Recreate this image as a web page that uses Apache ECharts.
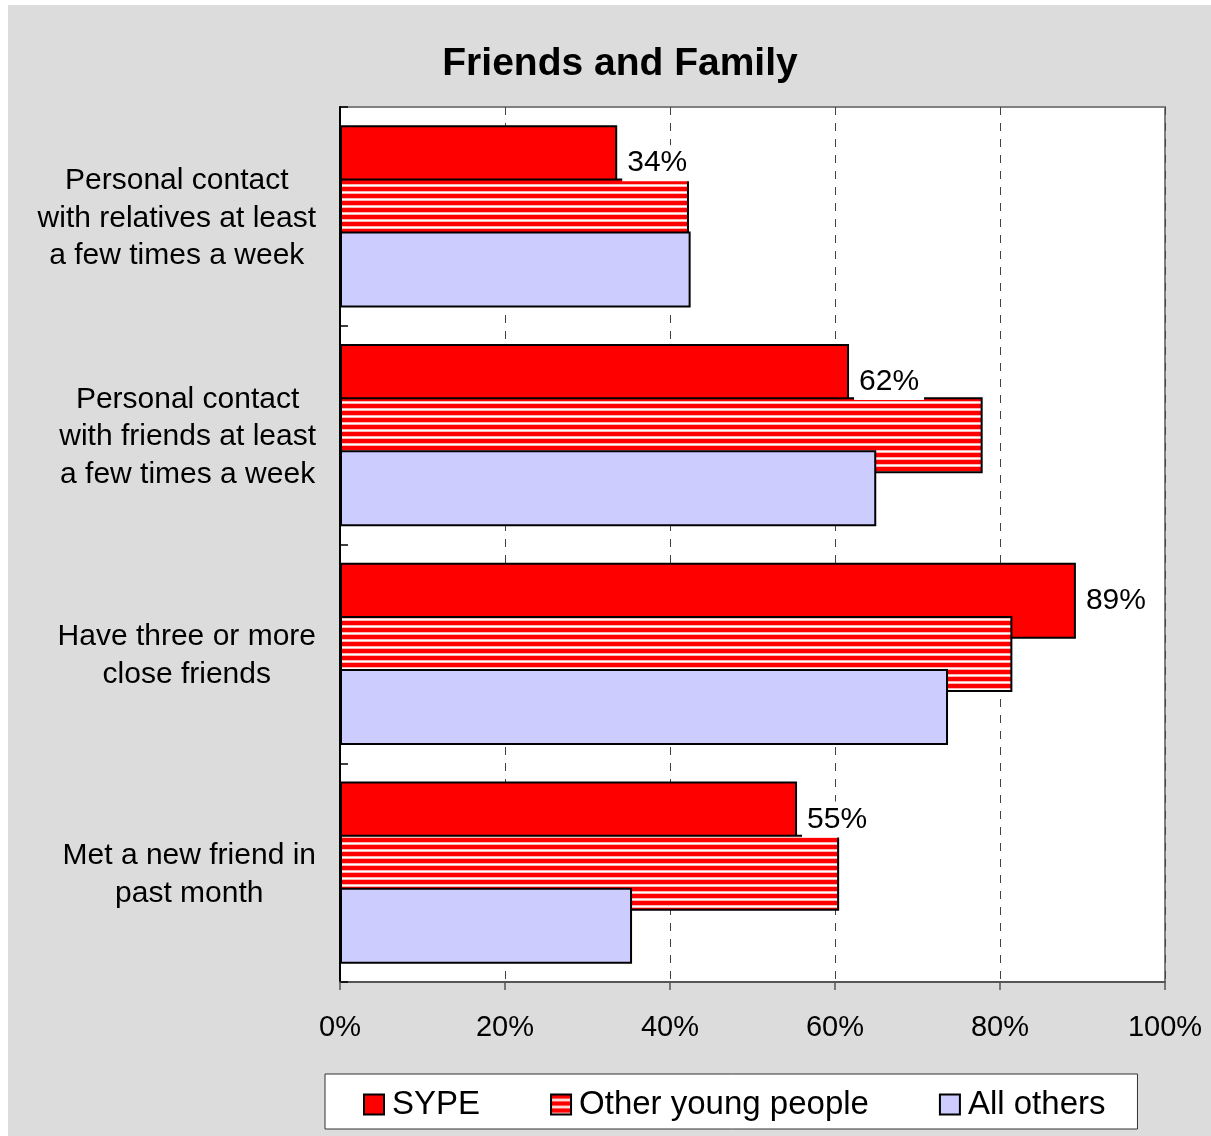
<!DOCTYPE html>
<html>
<head>
<meta charset="utf-8">
<script src="https://cdn.jsdelivr.net/npm/echarts@6/dist/echarts.min.js"></script>
<style>
  html, body { margin: 0; padding: 0; background: #ffffff; }
  #chart { position: absolute; left: 8px; top: 5px; width: 1203px; height: 1131px; }
</style>
</head>
<body>
<div id="chart"></div>
<script>
// categories (top to bottom)
var categories = [
    'Personal contact\nwith relatives at least\na few times a week',
    'Personal contact\nwith friends at least\na few times a week',
    'Have three or more\nclose friends',
    'Met a new friend in\npast month'
];
var seriesNames = ['SYPE', 'Other young people', 'All others'];
var sypeValues = [33.6, 61.7, 89.2, 55.4];
var otherYoungValues = [42.3, 77.9, 81.5, 60.5];
var allOthersValues = [42.5, 65.0, 73.7, 35.4];
var tickLabels = ['0%', '20%', '40%', '60%', '80%', '100%'];

/* 横条纹填充 */
function stripePattern() {
    var c = document.createElement('canvas');
    c.width = 8;
    c.height = 7;
    var ctx = c.getContext('2d');
    var rows = ['#ff0000', '#ff0000', '#ff0000', '#ff0000', '#ffb4b4', '#ffffff', '#ffb4b4'];
    rows.forEach(function (col, i) {
        ctx.fillStyle = col;
        ctx.fillRect(0, i, 8, 1);
    });
    return { image: c, repeat: 'repeat' };
}

var chart = echarts.init(document.getElementById('chart'));
var font = 'Liberation Sans, Arial, sans-serif';

var barBase = {
    type: 'bar',
    barWidth: 76,
    barGap: '-30%',
    itemStyle: { borderColor: '#000', borderWidth: 2 }
};

chart.setOption({
    backgroundColor: '#dcdcdc',
    animation: false,
    textStyle: { fontFamily: font },
    title: {
        text: 'Friends and Family',
        left: 612,
        textAlign: 'center',
        top: 40,
        padding: 0,
        textStyle: { fontSize: 39, fontWeight: 'bold', color: '#000', fontFamily: font }
    },
    legend: {
        data: seriesNames,
        icon: 'rect',
        left: 317,
        top: 1069,
        padding: [14, 32, 8, 38],
        itemGap: 70,
        itemWidth: 20,
        itemHeight: 20,
        backgroundColor: '#fff',
        borderColor: '#333',
        borderWidth: 1,
        borderRadius: 0,
        textStyle: { fontSize: 33, color: '#000', fontFamily: font, padding: [0, 0, 0, 3] }
    },
    grid: {
        left: 332,
        right: 46,
        top: 102,
        bottom: 154,
        show: true,
        backgroundColor: '#fff',
        borderColor: '#808080',
        borderWidth: 2
    },
    xAxis: {
        type: 'value',
        min: 0,
        max: 100,
        interval: 20,
        axisLine: { show: true, lineStyle: { color: '#555', width: 2 } },
        axisTick: { show: true, length: 8, lineStyle: { color: '#555', width: 1.5 } },
        axisLabel: {
            margin: 31,
            fontSize: 29,
            color: '#000',
            fontFamily: font,
            formatter: function (v) { return tickLabels[Math.round(v / 20)]; }
        },
        splitLine: { show: true, lineStyle: { color: '#444', type: [8, 8], width: 1 } }
    },
    yAxis: {
        type: 'category',
        inverse: true,
        data: categories,
        axisLine: { show: true, lineStyle: { color: '#000', width: 2 } },
        axisTick: { show: true, inside: true, length: 8, lineStyle: { color: '#000', width: 1.5 } },
        axisLabel: {
            margin: 24,
            align: 'right',
            padding: [4, 0, 0, 0],
            formatter: function (v) {
                return v.split('\n').map(function (s) { return '{c|' + s + '}'; }).join('\n');
            },
            rich: {
                c: { align: 'center', fontSize: 30, lineHeight: 37.5, color: '#000', fontFamily: font }
            }
        },
        splitLine: { show: false }
    },
    series: [
        Object.assign({}, barBase, {
            name: seriesNames[0],
            data: sypeValues,
            itemStyle: { color: '#ff0000', borderColor: '#000', borderWidth: 2 },
            label: {
                show: true,
                position: 'right',
                distance: 5,
                backgroundColor: '#fff',
                padding: [4, 5, 2, 5],
                fontSize: 30,
                color: '#000',
                fontFamily: font,
                formatter: function (p) { return Math.round(p.value) + '%'; }
            },
            z: 2
        }),
        Object.assign({}, barBase, {
            name: seriesNames[1],
            data: otherYoungValues,
            itemStyle: { color: stripePattern(), borderColor: '#000', borderWidth: 2 },
            z: 2
        }),
        Object.assign({}, barBase, {
            name: seriesNames[2],
            data: allOthersValues,
            itemStyle: { color: '#ccccff', borderColor: '#000', borderWidth: 2 },
            z: 2
        })
    ]
});
</script>
</body>
</html>
